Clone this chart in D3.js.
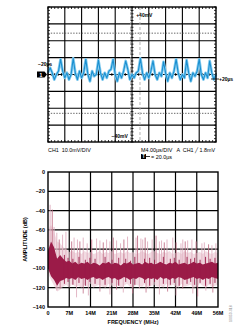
<!DOCTYPE html>
<html>
<head>
<meta charset="utf-8">
<script src="https://cdn.jsdelivr.net/npm/d3@7"></script>
<style>
body { margin: 0; background: #fff; }
svg { display: block; font-family: "Liberation Sans", Arial, sans-serif; }
text { white-space: pre; }
</style>
</head>
<body>
<svg id="chart" width="252" height="331"></svg>
<script>
// ---------- scope (top) data ----------
const waveStartUs = -20;
const waveStepUs = 0.5;
// CH1 voltage in mV, one sample every 0.5 us from -20 us to +20 us
const waveMv = [1, 4, 1, -3, 0, 2, 9, 2, -2, 1, -3, 0, 9.5, 1, -3, 2, -2, 1, 9, 0,
    -4, 2, -1, 0, 8.5, 1, -3, 1, -2, 2, 3, 9, 0, -4, 1, -2, 2, 8, 3, -3,
    0, -2, 1, 2, 9.5, 1, -3, 1, -2, 2, 8, 0, -3, 1, -1, 7.5, 1, -4, 1, -2,
    2, 9, 1, -3, 0, -2, 8.5, 1, -4, 1, -1, 2, 9, 0, -3, 1, -2, 8, 1, -3, 0];
const timeCursorsUs = [-0.3, 1.9];
const voltCursorsMv = [24.5, -23];
const voltCursorLabels = ["+40mV", "\u221240mV"];

// ---------- spectrum (bottom) data ----------
const freqTicks = [0, 7, 14, 21, 28, 35, 42, 49, 56];
const freqTickLabels = ["0", "7M", "14M", "21M", "28M", "35M", "42M", "49M", "56M"];
const ampTicks = [0, -20, -40, -60, -80, -100, -120, -140];
// band values every 1 MHz, 0..56 MHz
const bandHi = [-82, -72, -78, -90, -86, -90, -93, -92, -95, -93, -96, -94, -95, -93, -96, -94, -95, -97, -94, -95,
    -93, -96, -94, -95, -97, -94, -95, -93, -96, -95, -94, -96, -93, -95, -94, -96, -95, -93, -95, -96,
    -94, -95, -93, -96, -95, -94, -96, -95, -93, -95, -94, -96, -95, -94, -93, -95, -94];
const bandLo = [-100, -108, -112, -118, -113, -112, -110, -111, -110, -112, -109, -111, -110, -112, -110, -109, -111, -110, -112, -110,
    -109, -111, -110, -112, -111, -109, -110, -112, -110, -111, -109, -110, -112, -110, -111, -110, -112, -109, -111, -110,
    -112, -110, -111, -109, -110, -112, -111, -110, -109, -111, -110, -112, -110, -111, -109, -110, -111];
const hazeHi = [-60, -55, -62, -72, -74, -78, -80, -83, -82, -84, -83, -85, -82, -84, -83, -85, -84, -82, -85, -83,
    -84, -82, -85, -84, -83, -85, -82, -84, -83, -85, -84, -82, -84, -85, -83, -82, -84, -85, -83, -84,
    -82, -85, -84, -83, -85, -82, -84, -83, -85, -84, -83, -85, -82, -84, -85, -83, -84];
const hazeLo = [-105, -112, -118, -124, -122, -119, -117, -120, -116, -119, -118, -120, -117, -119, -116, -120, -118, -117, -119, -120,
    -116, -118, -119, -117, -120, -118, -116, -119, -120, -117, -118, -119, -116, -120, -118, -117, -119, -118, -120, -116,
    -119, -117, -118, -120, -116, -119, -118, -117, -120, -119, -116, -118, -120, -117, -119, -118, -117];
// upward spurs: frequency (MHz) and peak (dB)
const spurFreq = [0.7, 1.4, 2.0, 2.9, 3.7, 4.8, 5.9, 7.8, 8.6, 9.7, 10.5, 11.6, 12.9, 14.4, 16.0, 17.1, 18.2, 19.3, 20.4, 21.5,
    22.6, 23.9, 25.0, 26.2, 29.0, 29.5, 30.6, 31.2, 32.0, 32.8, 34.3, 35.6, 36.7, 37.4, 38.3, 39.2, 41.1, 42.2, 43.8, 44.4,
    45.2, 46.0, 47.4, 48.8, 50.7, 51.5, 52.9, 54.0, 55.3];
const spurPeak = [-34, -39, -57, -63, -70, -65, -62, -72, -68, -70, -72, -68, -74, -70, -69, -71, -73, -70, -72, -68,
    -71, -74, -70, -67, -68, -66, -69, -70, -68, -72, -70, -66, -72, -71, -73, -70, -68, -73, -74, -70,
    -72, -71, -70, -72, -74, -73, -75, -76, -74];
// downward spurs: frequency (MHz) and lowest value (dB)
const dipFreq = [2.9, 4.0, 9.4, 11.6, 13.3, 17.1, 20.4, 22.6, 24.8, 27.9, 30.1, 32.3, 36.7, 39.4, 42.2, 44.4, 47.7, 49.3, 52.0, 54.3];
const dipLow = [-123, -121, -130, -126, -128, -124, -127, -122, -125, -126, -121, -125, -127, -124, -128, -121, -126, -129, -123, -125];
// dark noise peaks poking out of the band: frequency (MHz), top and bottom (dB)
const noiseFreq = [5.4, 6.6, 8.2, 10.2, 12.3, 13.8, 15.5, 18.8, 21.1, 23.3, 25.6, 27.2, 28.6, 31.8, 33.5, 35.1, 38.0, 40.3,
    41.6, 43.2, 45.8, 47.0, 48.3, 50.1, 51.9, 53.4, 55.0];
const noiseTop = [-86, -89, -90, -88, -91, -89, -90, -88, -91, -89, -90, -92, -88, -90, -89, -91, -88, -90,
    -89, -91, -88, -90, -89, -91, -88, -90, -89];
const noiseBottom = [-116, -114, -117, -115, -118, -114, -116, -117, -115, -118, -114, -116, -117, -115, -118, -114, -116, -117,
    -115, -118, -116, -114, -117, -115, -118, -116, -115];

const svg = d3.select("#chart");

// ================= scope screen =================
const xT = d3.scaleLinear().domain([-20, 20]).range([48, 216]);
const yV = d3.scaleLinear().domain([-40, 40]).range([142, 7]);
const scope = svg.append("g");

// major graticule
scope.append("g").selectAll("line")
    .data(d3.range(-16, 20, 4))
    .join("line")
    .attr("x1", d => xT(d)).attr("x2", d => xT(d))
    .attr("y1", yV(40)).attr("y2", yV(-40))
    .attr("stroke", "#000").attr("stroke-width", 1.1);
scope.append("g").selectAll("line")
    .data(d3.range(-30, 40, 10))
    .join("line")
    .attr("x1", xT(-20)).attr("x2", xT(20))
    .attr("y1", d => yV(d)).attr("y2", d => yV(d))
    .attr("stroke", "#000").attr("stroke-width", 1.1);

// minor ticks
const minorT = d3.range(-20, 20.01, 0.8);
const minorV = d3.range(-40, 40.01, 2);
const ticksG = scope.append("g").attr("stroke", "#000").attr("stroke-width", 0.8);
[[yV(40), 2], [yV(-40), -2]].forEach(([y0, dy]) => {
    ticksG.append("g").selectAll("line").data(minorT).join("line")
        .attr("x1", d => xT(d)).attr("x2", d => xT(d))
        .attr("y1", y0).attr("y2", y0 + dy);
});
[[xT(-20), 2], [xT(20), -2]].forEach(([x0, dx]) => {
    ticksG.append("g").selectAll("line").data(minorV).join("line")
        .attr("y1", d => yV(d)).attr("y2", d => yV(d))
        .attr("x1", x0).attr("x2", x0 + dx);
});
ticksG.append("g").selectAll("line").data(minorT).join("line")
    .attr("x1", d => xT(d)).attr("x2", d => xT(d))
    .attr("y1", yV(0) - 1.5).attr("y2", yV(0) + 1.5);
ticksG.append("g").selectAll("line").data(minorV).join("line")
    .attr("y1", d => yV(d)).attr("y2", d => yV(d))
    .attr("x1", xT(0) - 1.5).attr("x2", xT(0) + 1.5);

// cursors
scope.append("g").selectAll("line").data(voltCursorsMv).join("line")
    .attr("x1", xT(-20)).attr("x2", xT(20))
    .attr("y1", d => yV(d)).attr("y2", d => yV(d))
    .attr("stroke", "#555").attr("stroke-width", 0.9)
    .attr("stroke-dasharray", "1.4,1.4");
scope.append("g").selectAll("line").data(timeCursorsUs).join("line")
    .attr("x1", d => xT(d)).attr("x2", d => xT(d))
    .attr("y1", yV(40)).attr("y2", yV(-40))
    .attr("stroke", "#aaa").attr("stroke-width", 0.9)
    .attr("stroke-dasharray", "3,2");

// waveform
const wave = d3.line()
    .x((d, i) => xT(waveStartUs + i * waveStepUs))
    .y(d => yV(d));
scope.append("path").datum(waveMv)
    .attr("d", wave).attr("fill", "none")
    .attr("stroke", "#86ccef").attr("stroke-width", 2.8)
    .attr("stroke-linejoin", "round");
scope.append("path").datum(waveMv)
    .attr("d", wave).attr("fill", "none")
    .attr("stroke", "#1a8fd0").attr("stroke-width", 1.1)
    .attr("stroke-linejoin", "round");

// frame
scope.append("rect")
    .attr("x", xT(-20)).attr("y", yV(40))
    .attr("width", xT(20) - xT(-20)).attr("height", yV(-40) - yV(40))
    .attr("fill", "none").attr("stroke", "#000").attr("stroke-width", 1.4);

// cursor labels
const lab = scope.append("g").attr("font-size", 5).attr("font-weight", "bold").attr("fill", "#000");
lab.append("text").attr("x", xT(1)).attr("y", 16.5).text(voltCursorLabels[0]);
lab.append("text").attr("x", xT(-1)).attr("y", 137.5).attr("text-anchor", "end").text(voltCursorLabels[1]);
lab.append("text").attr("x", 38).attr("y", 66).text("\u221220\u00b5s");
lab.append("line").attr("x1", xT(20) - 5).attr("x2", xT(20) + 3)
    .attr("y1", 79).attr("y2", 79).attr("stroke", "#000").attr("stroke-width", 0.8);
lab.append("text").attr("x", xT(20) + 3).attr("y", 80.5).text("+20\u00b5s");

// channel 1 ground marker
scope.append("path")
    .attr("d", `M37,${yV(0) - 3}H44.5L47,${yV(0)}L44.5,${yV(0) + 3}H37Z`)
    .attr("fill", "#000");
scope.append("text").attr("x", 41).attr("y", yV(0) + 2)
    .attr("text-anchor", "middle").attr("font-size", 5).attr("font-weight", "bold")
    .attr("fill", "#fff").text("1");

// readouts under screen
const ro = scope.append("g").attr("font-size", 5.4).attr("fill", "#000");
ro.append("text").attr("x", 48).attr("y", 151.5).text("CH1  10.0mV/DIV");
ro.append("text").attr("x", 141).attr("y", 151.5).text("M4.00\u00b5s/DIV   A  CH1 \u2571 1.8mV");
ro.append("rect").attr("x", 141).attr("y", 154).attr("width", 5).attr("height", 5).attr("fill", "#000");
ro.append("text").attr("x", 143.5).attr("y", 158.3).attr("text-anchor", "middle")
    .attr("fill", "#fff").attr("font-weight", "bold").attr("font-size", 4.5).text("T");
ro.append("line").attr("x1", 146).attr("x2", 150).attr("y1", 156.5).attr("y2", 156.5)
    .attr("stroke", "#000").attr("stroke-width", 0.8);
ro.append("text").attr("x", 151).attr("y", 158.8).text("= 20.0\u00b5s");

// ================= spectrum =================
const xF = d3.scaleLinear().domain([0, 56]).range([48, 218]);
const yA = d3.scaleLinear().domain([-140, 0]).range([307, 172]);
const spec = svg.append("g");

spec.append("g").selectAll("line").data(freqTicks.slice(1, -1)).join("line")
    .attr("x1", d => xF(d)).attr("x2", d => xF(d))
    .attr("y1", yA(0)).attr("y2", yA(-140))
    .attr("stroke", "#000").attr("stroke-width", 1.2);
spec.append("g").selectAll("line").data(ampTicks.slice(1, -1)).join("line")
    .attr("x1", xF(0)).attr("x2", xF(56))
    .attr("y1", d => yA(d)).attr("y2", d => yA(d))
    .attr("stroke", "#000").attr("stroke-width", 1.2);

const fIdx = d3.range(bandHi.length);

// light haze of dense spectral lines
spec.append("path").datum(fIdx)
    .attr("d", d3.area().x(i => xF(i)).y0(i => yA(hazeLo[i])).y1(i => yA(hazeHi[i])))
    .attr("fill", "#e9c3cf").attr("opacity", 0.6);

// spurs
spec.append("g").selectAll("line").data(spurFreq).join("line")
    .attr("x1", d => xF(d)).attr("x2", d => xF(d))
    .attr("y1", (d, i) => yA(spurPeak[i])).attr("y2", yA(-95))
    .attr("stroke", (d, i) => i % 3 === 1 ? "#c27088" : "#e0afbf")
    .attr("stroke-width", 0.9);
spec.append("g").selectAll("line").data(dipFreq).join("line")
    .attr("x1", d => xF(d)).attr("x2", d => xF(d))
    .attr("y1", yA(-108)).attr("y2", (d, i) => yA(dipLow[i]))
    .attr("stroke", (d, i) => i % 2 ? "#c27088" : "#dca6b8")
    .attr("stroke-width", 0.8);

// dense noise band
spec.append("path").datum(fIdx)
    .attr("d", d3.area().x(i => xF(i)).y0(i => yA(bandLo[i])).y1(i => yA(bandHi[i])))
    .attr("fill", "#9b1b48");
spec.append("g").selectAll("line").data(noiseFreq).join("line")
    .attr("x1", d => xF(d)).attr("x2", d => xF(d))
    .attr("y1", (d, i) => yA(noiseTop[i])).attr("y2", (d, i) => yA(noiseBottom[i]))
    .attr("stroke", "#9b1b48").attr("stroke-width", 0.9);

spec.append("rect")
    .attr("x", xF(0)).attr("y", yA(0))
    .attr("width", xF(56) - xF(0)).attr("height", yA(-140) - yA(0))
    .attr("fill", "none").attr("stroke", "#000").attr("stroke-width", 1.4);

// axes labels
const tl = spec.append("g").attr("font-size", 5.5).attr("font-weight", "bold").attr("fill", "#000");
tl.selectAll("text.y").data(ampTicks).join("text")
    .attr("x", 45).attr("y", d => yA(d) + 2)
    .attr("text-anchor", "end")
    .text(d => d < 0 ? "\u2013" + Math.abs(d) : d);
tl.selectAll("text.x").data(freqTicks).join("text")
    .attr("x", d => xF(d)).attr("y", 315)
    .attr("text-anchor", "middle")
    .text((d, i) => freqTickLabels[i]);
tl.append("text").attr("x", (xF(0) + xF(56)) / 2).attr("y", 324)
    .attr("text-anchor", "middle").text("FREQUENCY (MHz)");
tl.append("text")
    .attr("transform", `translate(27,${yA(-70)}) rotate(-90)`)
    .attr("text-anchor", "middle").text("AMPLITUDE (dB)");

svg.append("text")
    .attr("transform", "translate(232,322) rotate(-90)")
    .attr("font-size", 3.5).attr("fill", "#888").text("10050-018");
</script>
</body>
</html>
